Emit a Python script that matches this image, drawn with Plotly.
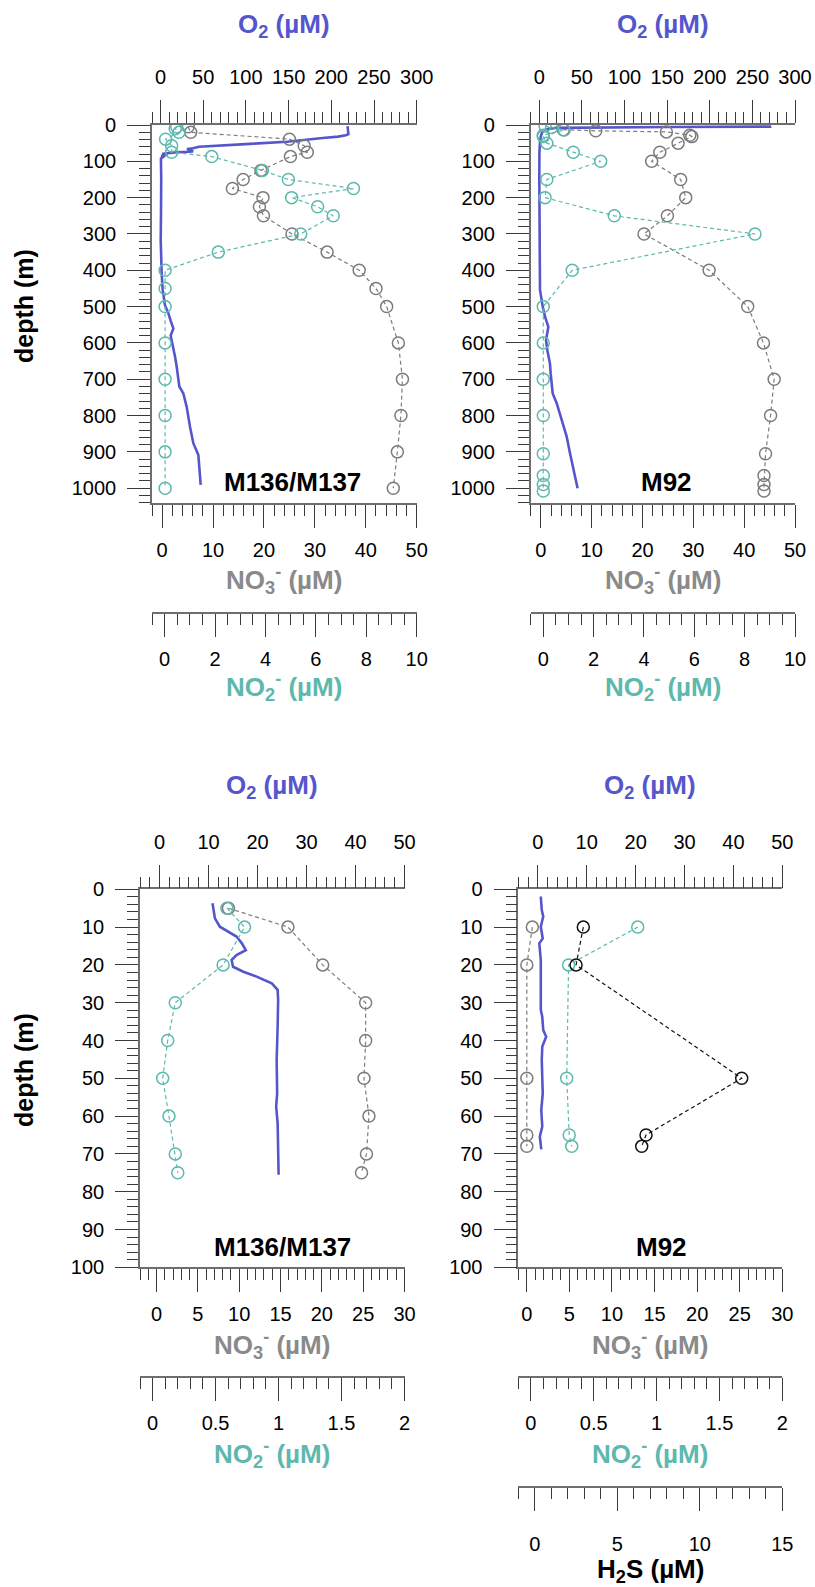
import plotly.graph_objects as go

W, H = 815, 1587

# ---------------- data ----------------
# Top-left: M136/M137, 0-1000 m
tl_o2_depth = [3, 25, 28, 32, 36, 41, 46, 52, 57, 60, 64, 66, 70, 73, 75, 77, 79, 82, 85, 88, 92, 101,
               150, 250, 317, 408, 454, 496, 518, 540, 560, 580, 610, 638, 665, 693, 720, 739, 776,
               831, 876, 909, 991]
tl_o2 = [219, 220, 217, 208, 190, 165, 148, 105, 70, 45, 38, 31, 36, 38, 20, 5, 2, 8, 1, 3, 0.5, 0.5,
         0.8, 0.5, 0.2, 1.3, 2.5, 5.2, 9.1, 12, 15, 11.9, 15, 17, 18.9, 20.8, 22, 26.7, 30.6,
         34.5, 38.4, 44.3, 47]
tl_no3_depth = [5, 20, 39, 57, 75, 87, 125, 150, 175, 200, 225, 250, 300, 350, 400, 450, 500,
                600, 700, 800, 900, 1000]
tl_no3 = [5.1, 5.6, 25.0, 27.9, 28.5, 25.2, 19.4, 15.9, 13.8, 19.8, 19.1, 19.9, 25.5, 32.4,
          38.7, 42.0, 44.1, 46.4, 47.2, 46.9, 46.2, 45.4]
tl_no2_depth = [5, 10, 20, 39, 57, 75, 87, 125, 150, 175, 200, 225, 250, 300, 350, 400, 450,
                500, 600, 700, 800, 900, 1000]
tl_no2 = [0.48, 0.42, 0.57, 0.04, 0.28, 0.28, 1.87, 3.88, 4.91, 7.49, 5.04, 6.07, 6.69, 5.40,
          2.13, 0.02, 0.02, 0.02, 0.02, 0.02, 0.02, 0.02, 0.02]

# Top-right: M92, 0-1000 m
tr_o2_depth = [3, 4.5, 5.5, 6.5, 8, 10, 14, 20, 32, 50, 78, 150, 250, 317, 409, 454, 500, 528,
               556, 592, 620, 657, 684, 739, 766, 812, 858, 904, 950, 1000]
tr_o2 = [272, 271, 150, 40, 20, 12, 6, 3.5, 1.8, 0.8, 0.2, 0.1, 0.1, 0.1, 0.2, 0.9, 4.1, 6.8,
         10.7, 8, 9.5, 12.6, 13.4, 15.8, 20.5, 26.3, 32.2, 36.1, 40, 45]
tr_no3_depth = [13, 16, 19, 28, 32, 50, 75, 100, 150, 200, 250, 300, 400, 500, 600, 700, 800,
                905, 965, 990, 1008]
tr_no3 = [4.4, 10.8, 24.7, 29.3, 29.7, 27.0, 23.4, 21.8, 27.5, 28.5, 24.9, 20.3, 33.1, 40.7,
          43.8, 45.9, 45.2, 44.2, 43.9, 43.9, 43.9]
tr_no2_depth = [3, 7, 14, 28, 32, 50, 75, 100, 150, 200, 250, 300, 400, 500, 600, 700, 800,
                905, 965, 990, 1008]
tr_no2 = [0.07, 0.33, 0.83, 0.0, 0.0, 0.14, 1.19, 2.28, 0.14, 0.07, 2.82, 8.41, 1.15, 0.0,
          0.0, 0.0, 0.0, 0.0, 0.0, 0.0, 0.0]

# Bottom-left: M136/M137, 0-100 m
bl_o2_depth = [3.7, 7.7, 9.9, 12.5, 14.3, 16.1, 17.4, 18.7, 20.5, 21.8, 23.1, 24.9, 26.6, 29.3,
               36.3, 45.2, 54, 57.5, 61.9, 71.6, 75.5]
bl_o2 = [10.8, 11.3, 12.3, 15.7, 16.8, 17.6, 15.7, 14.7, 15.0, 17.1, 19.8, 22.9, 24.1, 24.2,
         24.1, 23.9, 24.0, 23.8, 24.1, 24.2, 24.3]
bl_no3_depth = [5, 10, 20, 30, 40, 50, 60, 70, 75]
bl_no3 = [8.7, 15.9, 20.1, 25.3, 25.3, 25.1, 25.7, 25.4, 24.8]
bl_no2_depth = [5, 10, 20, 30, 40, 50, 60, 70, 75]
bl_no2 = [0.59, 0.73, 0.56, 0.18, 0.12, 0.08, 0.13, 0.18, 0.20]

# Bottom-right: M92, 0-100 m
br_o2_depth = [1.9, 5.5, 7.2, 9.9, 13, 14.3, 18.7, 27.5, 31.9, 33.7, 37.2, 39, 41.6, 45.2, 54,
               58.4, 62.8, 65.4, 68.8]
br_o2 = [0.6, 0.8, 1.1, 0.6, 1.0, 0.3, 0.6, 0.6, 0.6, 0.9, 1.1, 1.7, 0.9, 0.8, 1.0, 0.7, 0.9,
         0.4, 0.7]
br_no3_depth = [10, 20, 50, 65, 68]
br_no3 = [0.65, 0.0, 0.0, 0.0, 0.0]
br_no2_depth = [10, 20, 50, 65, 68]
br_no2 = [0.85, 0.30, 0.285, 0.305, 0.325]
br_h2s_depth = [10, 20, 50, 65, 68]
br_h2s = [2.94, 2.5, 12.54, 6.74, 6.48]

panel_labels = ["M136/M137", "M92", "M136/M137", "M92"]

# ---------------- styling ----------------
O2C = "#5656cc"
NO3C = "#7c7c7c"
NO3T = "#8a8a8a"
NO2C = "#5db8ad"
FONT = "Liberation Sans, Arial, sans-serif"
LINEC = "#6e6e6e"
TICKC = "#3a3a3a"


def px(x):
    return x / W


def py(y):
    return 1 - y / H


panels = {
    "TL": dict(x=(152, 416.7), y=(125, 502.7)),
    "TR": dict(x=(530.7, 795), y=(125, 502.7)),
    "BL": dict(x=(140, 404.5), y=(889.3, 1267.3)),
    "BR": dict(x=(518.3, 782.3), y=(889.3, 1267.3)),
}


def xax(dom, rng, dtick, mdtick, side="bottom", anchor="y", position=None, overlaying=None,
        standoff=None):
    if standoff is None:
        standoff = 8 if side == "top" else 5
    d = dict(domain=[px(dom[0]), px(dom[1])], range=rng, dtick=dtick, tick0=0, side=side,
             showline=True, linecolor=LINEC, linewidth=1.6, ticks="outside", ticklen=23,
             tickwidth=1.1, tickcolor=TICKC, showgrid=False, zeroline=False,
             tickfont=dict(family=FONT, size=20, color="black"),
             ticklabelstandoff=standoff, automargin=False,
             minor=dict(ticks="outside", ticklen=11, dtick=mdtick, tickcolor=TICKC, tickwidth=1,
                        showgrid=False),
             fixedrange=True)
    if position is not None:
        d["anchor"] = "free"
        d["position"] = position
    else:
        d["anchor"] = anchor
    if overlaying:
        d["overlaying"] = overlaying
    return d


def yax(dom, rng, dtick, mdtick, anchor):
    return dict(domain=[py(dom[1]), py(dom[0])], range=rng, dtick=dtick, tick0=0, side="left",
                anchor=anchor, showline=True, linecolor=LINEC, linewidth=1.6, ticks="outside",
                ticklen=23, tickwidth=1.1, tickcolor=TICKC, showgrid=False, zeroline=False,
                tickfont=dict(family=FONT, size=20, color="black"), ticklabelstandoff=7,
                automargin=False,
                minor=dict(ticks="outside", ticklen=11, dtick=mdtick, tickcolor=TICKC,
                           tickwidth=1, showgrid=False),
                fixedrange=True)


layout = dict(width=W, height=H, margin=dict(l=0, r=0, t=0, b=0, pad=0, autoexpand=False),
              showlegend=False, paper_bgcolor="white", plot_bgcolor="white")

# top panels (0-1000 m)
for i, key in enumerate(["TL", "TR"]):
    p = panels[key]
    ids = (1, 2, 3) if i == 0 else (4, 5, 6)
    ya = "y" if i == 0 else "y2"
    xa1 = "x" if i == 0 else "x4"
    layout["xaxis" if i == 0 else "xaxis4"] = xax(p["x"], [-10, 300], 50, 10, side="top",
                                                  anchor=ya)
    layout["xaxis%d" % ids[1]] = xax(p["x"], [-2, 50], 10, 2, side="bottom", anchor=ya,
                                     overlaying=xa1)
    layout["xaxis%d" % ids[2]] = xax(p["x"], [-0.5, 10], 2, 0.5, side="bottom",
                                     position=py(613.3), overlaying=xa1)
    layout["yaxis" if i == 0 else "yaxis2"] = yax(p["y"], [1040, 0], 100, 20, xa1)

# bottom panels (0-100 m)
for i, key in enumerate(["BL", "BR"]):
    p = panels[key]
    ids = (7, 8, 9) if i == 0 else (10, 11, 12)
    ya = "y3" if i == 0 else "y4"
    xa1 = "x%d" % ids[0]
    layout["xaxis%d" % ids[0]] = xax(p["x"], [-4, 50], 10, 2, side="top", anchor=ya)
    layout["xaxis%d" % ids[1]] = xax(p["x"], [-2, 30] if i == 0 else [-1, 30], 5, 1,
                                     side="bottom", anchor=ya, overlaying=xa1)
    layout["xaxis%d" % ids[2]] = xax(p["x"], [-0.1, 2], 0.5, 0.1, side="bottom",
                                     position=py(1377.3), overlaying=xa1)
    layout["yaxis%d" % (3 + i)] = yax(p["y"], [100, 0], 10, 2, xa1)

layout["xaxis13"] = xax(panels["BR"]["x"], [-1, 15], 5, 1, side="bottom", position=py(1486.7),
                        overlaying="x10", standoff=16)

fig = go.Figure(layout=layout)


def dashed(xs, ys, color, xa, ya):
    fig.add_trace(go.Scatter(x=xs, y=ys, xaxis=xa, yaxis=ya, mode="lines+markers",
                             line=dict(color=color, width=1.2, dash="4px,3px"),
                             marker=dict(symbol="circle-open", size=12, color=color,
                                         line=dict(width=1.5, color=color)),
                             hoverinfo="skip"))


def o2line(xs, ys, xa, ya):
    fig.add_trace(go.Scatter(x=xs, y=ys, xaxis=xa, yaxis=ya, mode="lines",
                             line=dict(color=O2C, width=2.6), hoverinfo="skip"))


dashed(tl_no3, tl_no3_depth, NO3C, "x2", "y")
dashed(tl_no2, tl_no2_depth, NO2C, "x3", "y")
o2line(tl_o2, tl_o2_depth, "x", "y")

dashed(tr_no3, tr_no3_depth, NO3C, "x5", "y2")
dashed(tr_no2, tr_no2_depth, NO2C, "x6", "y2")
o2line(tr_o2, tr_o2_depth, "x4", "y2")

dashed(bl_no3, bl_no3_depth, NO3C, "x8", "y3")
dashed(bl_no2, bl_no2_depth, NO2C, "x9", "y3")
o2line(bl_o2, bl_o2_depth, "x7", "y3")

dashed(br_no3, br_no3_depth, NO3C, "x11", "y4")
dashed(br_no2, br_no2_depth, NO2C, "x12", "y4")
dashed(br_h2s, br_h2s_depth, "#111111", "x13", "y4")
o2line(br_o2, br_o2_depth, "x10", "y4")

# ---------------- annotations ----------------
ann = []


def text(x, y, s, size=26, color="black", angle=0):
    ann.append(dict(x=px(x), y=py(y), xref="paper", yref="paper", text=s, showarrow=False,
                    xanchor="center", yanchor="middle", textangle=angle,
                    font=dict(family=FONT, size=size, color=color)))


o2t = "<b>O<sub>2</sub> (µM)</b>"
no3t = "<b>NO<sub>3</sub><sup>-</sup> (µM)</b>"
no2t = "<b>NO<sub>2</sub><sup>-</sup> (µM)</b>"
for key, ytop, ybot, yno2 in [("TL", 26, 580, 687), ("TR", 26, 580, 687),
                              ("BL", 786, 1345, 1454), ("BR", 786, 1345, 1454)]:
    cx = sum(panels[key]["x"]) / 2
    text(cx, ytop, o2t, color=O2C)
    text(cx, ybot, no3t, color=NO3T)
    text(cx, yno2, no2t, color=NO2C)
text(sum(panels["BR"]["x"]) / 2, 1570, "<b>H<sub>2</sub>S (µM)</b>", color="black")

text(292.5, 482, "<b>%s</b>" % panel_labels[0])
text(666, 482, "<b>%s</b>" % panel_labels[1])
text(282.5, 1247, "<b>%s</b>" % panel_labels[2])
text(661, 1247, "<b>%s</b>" % panel_labels[3])

text(24, 306, "<b>depth (m)</b>", size=25, angle=-90)
text(24, 1070, "<b>depth (m)</b>", size=25, angle=-90)

fig.update_layout(annotations=ann)
fig.write_html("out.html")
